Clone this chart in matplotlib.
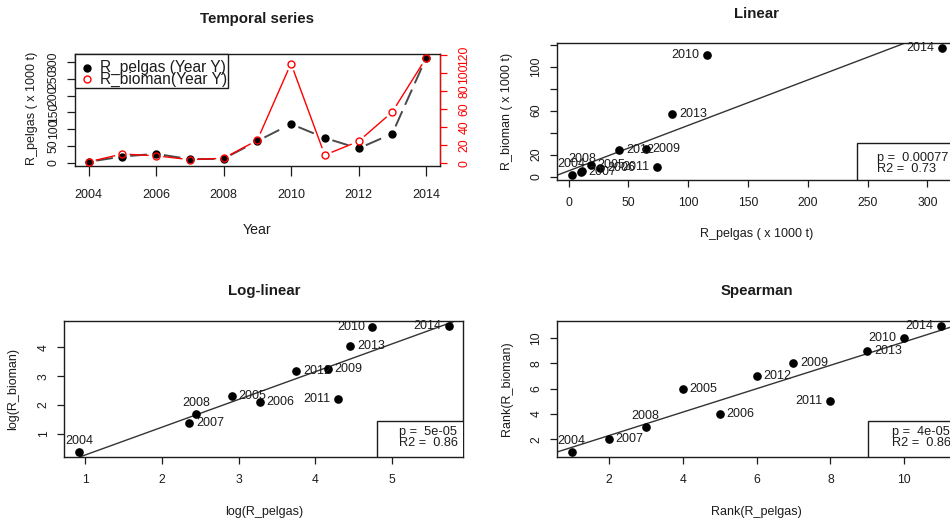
import numpy as np
import matplotlib
matplotlib.use("Agg")
import matplotlib.pyplot as plt
from matplotlib.patches import Rectangle

plt.rcParams['font.family'] = ['Liberation Sans', 'DejaVu Sans']
plt.rcParams['lines.scale_dashes'] = False

# ---- data -------------------------------------------------------------
years = np.arange(2004, 2015)
r_pelgas = np.array([2.5, 18.4, 26.5, 10.5, 11.5, 64.5, 115.5, 74.0, 42.5, 86.5, 312.0])
r_bioman = np.array([1.45, 10.2, 8.2, 3.9, 5.4, 25.5, 111.0, 9.0, 24.3, 57.0, 117.0])
label_side = ['above', 'right', 'right', 'right', 'above', 'right',
              'left', 'left', 'right', 'right', 'left']
stats_linear = ("0.00077", "0.73")
stats_log = ("5e-05", "0.86")
stats_rank = ("4e-05", "0.86")

INK = '#1c1c1c'
W, H = 950, 519
fig = plt.figure(figsize=(W / 100, H / 100), dpi=100)


def add_axes_px(box):
    l, t, r, b = box
    return fig.add_axes([l / W, 1 - b / H, (r - l) / W, (b - t) / H])


def frac(box, px, py):
    l, t, r, b = box
    return (px - l) / (r - l), (b - py) / (b - t)


def ftext(px, py, s, **kw):
    kw.setdefault('color', INK)
    fig.text(px / W, 1 - py / H, s, ha='center', va='center', **kw)


def r_range(v):
    lo, hi = float(np.min(v)), float(np.max(v))
    d = 0.04 * (hi - lo)
    return lo - d, hi + d


def rank(v):
    return np.argsort(np.argsort(v)) + 1.0


def frame(ax, color=INK):
    for s in ax.spines.values():
        s.set_color(color)
        s.set_linewidth(1.0)


def gapped_segments(ax, x, y, gap):
    pts = ax.transData.transform(np.column_stack([x, y]))
    inv = ax.transData.inverted()
    segs = []
    for p0, p1 in zip(pts[:-1], pts[1:]):
        d = p1 - p0
        L = np.hypot(*d)
        if L <= 2 * gap:
            continue
        u = d / L
        segs.append(inv.transform(np.array([p0 + u * gap, p1 - u * gap])))
    return segs


# ---- panel 1: temporal series ----------------------------------------
box1 = (75, 54, 439.5, 166)
ax1 = add_axes_px(box1)
ax1.set_xlim(r_range(years))
ax1.set_ylim(r_range(r_pelgas))
ax1b = ax1.twinx()
ax1b.set_ylim(r_range(r_bioman))

for seg in gapped_segments(ax1, years, r_pelgas, 8):
    ax1.plot(seg[:, 0], seg[:, 1], color='#4a4a4a', lw=1.4, dashes=(12, 5),
             solid_capstyle='butt', dash_capstyle='butt')
ax1.plot(years, r_pelgas, 'o', color='black', ms=5)

for seg in gapped_segments(ax1b, years, r_bioman, 8):
    ax1b.plot(seg[:, 0], seg[:, 1], color='red', lw=1.0)
ax1b.plot(years, r_bioman, 'o', mfc='none', mec='red', mew=1.0, ms=5)

frame(ax1)
for k in ('top', 'bottom', 'left'):
    ax1b.spines[k].set_visible(False)
ax1b.spines['right'].set_color('red')
ax1b.spines['right'].set_bounds(0, 120)

ax1.set_xticks(np.arange(2004, 2015, 2))
ax1.tick_params(axis='x', length=7.2, width=0.9, pad=9, labelsize=9,
                colors=INK)
yt = np.arange(0, 301, 50)
ax1.set_yticks(yt, [str(v) for v in yt], rotation=90, va='center')
ax1.tick_params(axis='y', length=6, width=0.9, pad=5, labelsize=8.8,
                colors=INK)
yt2 = np.arange(0, 121, 20)
ax1b.set_yticks(yt2, [str(v) for v in yt2], rotation=90, va='center')
ax1b.tick_params(axis='y', length=4.8, width=0.9, pad=8.9, labelsize=8.8,
                 colors='red')

# legend
lx0, ly0 = frac(box1, 75, 88.3)
lx1, ly1 = frac(box1, 228, 54)
ax1b.add_patch(Rectangle((lx0, ly0), lx1 - lx0, ly1 - ly0, transform=ax1b.transAxes,
                         fc='white', ec=INK, lw=1.0, zorder=5, clip_on=False))
mx, my1 = frac(box1, 87, 67.7)
_, my2 = frac(box1, 87, 79.3)
tx, _ = frac(box1, 100, 0)
ax1b.plot([mx], [my1], 'o', color='black', ms=5, transform=ax1b.transAxes,
          zorder=6, clip_on=False)
ax1b.plot([mx], [my2], 'o', mfc='none', mec='red', mew=1.0, ms=5,
          transform=ax1b.transAxes, zorder=6, clip_on=False)
ax1b.text(tx, my1, 'R_pelgas (Year Y)', transform=ax1b.transAxes, va='center',
          ha='left', fontsize=11.2, color=INK, zorder=7)
ax1b.text(tx, my2, 'R_bioman(Year Y)', transform=ax1b.transAxes, va='center',
          ha='left', fontsize=11.2, color=INK, zorder=7)

ftext(257, 19, 'Temporal series', fontsize=10.8, fontweight='bold')
ftext(257, 230, 'Year', fontsize=10.2)
ftext(32, 108, 'R_pelgas ( x 1000 t)', fontsize=9, rotation=90)


# ---- scatter panels --------------------------------------------------
def scatter_panel(box, x, y, stats, stat_box_px, stat_text_px, xticks, yticks,
                  ylabels=None):
    ax = add_axes_px(box)
    ax.plot(x, y, 'o', color='black', ms=5.2, zorder=3)
    m, c = np.polyfit(x, y, 1)
    ax.set_xlim(r_range(x))
    ax.set_ylim(r_range(y))
    ax.axline((0, c), slope=m, color='#333333', lw=1.0, zorder=2)
    offs = {'above': ((0, 8), 'center'), 'right': ((5, 0), 'left'),
            'left': ((-5.5, 0), 'right')}
    for xi, yi, yr, side in zip(x, y, years, label_side):
        off, ha = offs[side]
        ax.annotate(str(yr), (xi, yi), xytext=off, textcoords='offset points',
                    ha=ha, va='center', fontsize=9, color=INK, zorder=4)
    frame(ax)
    ax.set_xticks(xticks)
    if ylabels is None:
        ylabels = [str(v) for v in yticks]
    ax.set_yticks(yticks, ylabels, rotation=90, va='center')
    ax.tick_params(axis='both', length=4.8, width=0.9, labelsize=8.7, colors=INK)
    ax.tick_params(axis='x', pad=7.6)
    ax.tick_params(axis='y', pad=5.6)
    # statistics box in the lower right corner
    bx, by = frac(box, *stat_box_px)
    ax.add_patch(Rectangle((bx, 0), 1.5 - bx, by, transform=ax.transAxes,
                           fc='white', ec=INK, lw=1.0, zorder=5))
    sx, sy1 = frac(box, stat_text_px[0], stat_text_px[1])
    _, sy2 = frac(box, stat_text_px[0], stat_text_px[1] + 11.5)
    ax.text(sx, sy1, 'p =  ' + stats[0], transform=ax.transAxes, ha='left',
            va='center', fontsize=9.2, color=INK, zorder=6)
    ax.text(sx, sy2, 'R2 =  ' + stats[1], transform=ax.transAxes, ha='left',
            va='center', fontsize=9.2, color=INK, zorder=6)
    return ax


box2 = (556.7, 43, 956.5, 180)
scatter_panel(box2, r_pelgas, r_bioman, stats_linear, (857.3, 143), (877.3, 158),
              np.arange(0, 301, 50), np.arange(0, 121, 20),
              ['0', '20', '', '60', '', '100', ''])
ftext(756.6, 14, 'Linear', fontsize=10.8, fontweight='bold')
ftext(756.6, 234, 'R_pelgas ( x 1000 t)', fontsize=9)
ftext(506.7, 111.5, 'R_bioman ( x 1000 t)', fontsize=9, rotation=90)

box3 = (64.3, 320.5, 463.3, 457)
scatter_panel(box3, np.log(r_pelgas), np.log(r_bioman), stats_log, (377.3, 421),
              (399, 432), np.arange(1, 6), np.arange(1, 5))
ftext(263.8, 291, 'Log-linear', fontsize=10.8, fontweight='bold')
ftext(263.8, 511.7, 'log(R_pelgas)', fontsize=9)
ftext(13.3, 388.7, 'log(R_bioman)', fontsize=9, rotation=90)

box4 = (557, 320.5, 956, 457)
scatter_panel(box4, rank(r_pelgas), rank(r_bioman), stats_rank, (868.3, 421),
              (891.7, 432), np.arange(2, 11, 2), np.arange(2, 11, 2))
ftext(756.5, 291, 'Spearman', fontsize=10.8, fontweight='bold')
ftext(756.5, 511.7, 'Rank(R_pelgas)', fontsize=9)
ftext(506.7, 388.7, 'Rank(R_bioman)', fontsize=9, rotation=90)

fig.savefig('out.png', dpi=100)
